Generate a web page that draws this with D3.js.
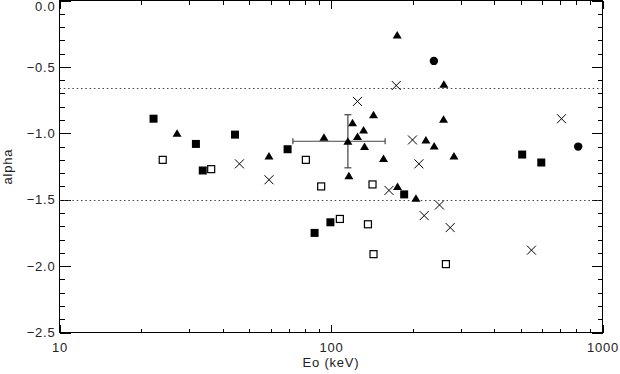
<!DOCTYPE html>
<html>
<head>
<meta charset="utf-8">
<script src="https://cdn.jsdelivr.net/npm/d3@7"></script>
<style>
    html, body { margin: 0; padding: 0; background: #fff; }
    svg { display: block; }
    .tick text, .axis-label { font-family: "Liberation Sans", Arial, sans-serif; font-size: 13px; fill: #222; letter-spacing: 0.8px; }
    .domain { display: none; }
    .tick line { stroke: #000; shape-rendering: crispEdges; }
</style>
</head>
<body>
<div id="chart"></div>
<script>
// [Eo (keV), alpha]
const filledSquares = [
    [22.2, -0.89], [31.8, -1.08], [33.7, -1.28], [44.3, -1.01], [69.2, -1.12],
    [87.0, -1.75], [99.5, -1.67], [186, -1.46], [506, -1.16], [595, -1.22]
];
const openSquares = [
    [24.0, -1.20], [36.2, -1.27], [80.8, -1.20], [92.0, -1.40], [107.8, -1.645],
    [136.8, -1.685], [142.2, -1.385], [143.4, -1.91], [265, -1.985]
];
const triangles = [
    [27.1, -1.00], [59.1, -1.17], [94.2, -1.03], [115.4, -1.06], [116.4, -1.32],
    [120.0, -0.92], [125.2, -1.025], [131.8, -0.975], [132.9, -1.10], [143.4, -0.86],
    [156.1, -1.19], [175.3, -0.26], [175.8, -1.40], [205.5, -1.49], [223.6, -1.05],
    [239.9, -1.095], [259.7, -0.895], [260.5, -0.63], [283.7, -1.17]
];
const circles = [[239.3, -0.455], [813.7, -1.10]];
const crosses = [
    [46.0, -1.23], [59.1, -1.35], [125.2, -0.76], [163.5, -1.43], [173.9, -0.64],
    [199.6, -1.05], [210.8, -1.23], [220.4, -1.62], [250.9, -1.54], [274.8, -1.71],
    [547.5, -1.88], [706.3, -0.89]
];
// mean point with its error bars: [E, alpha, Emin, Emax, alphaMin, alphaMax]
const errorPoint = [115.4, -1.06, 72.4, 158.3, -1.26, -0.86];
const refLines = [-0.66, -1.5];
const xMajor = [10, 100, 1000];
const yMajor = [-2.5, -2.0, -1.5, -1.0, -0.5, 0.0];

const W = 620, H = 374;
const pLeft = 59.5, pRight = 602.5, pTop = 0.5, pBottom = 332.5;

const svg = d3.select('#chart').append('svg').attr('width', W).attr('height', H);

const x = d3.scaleLog().domain([10, 1000]).range([pLeft, pRight]);
const y = d3.scaleLinear().domain([-2.5, 0]).range([pBottom, pTop]);

const xTicks = x.ticks();
const yTicks = d3.range(-25, 1).map(i => i / 10);
const isXMajor = d => xMajor.includes(d);
const isYMajor = d => yMajor.some(v => Math.abs(v - d) < 1e-9);

// Axes
const gx = svg.append('g').attr('transform', `translate(0,${pBottom})`)
    .call(d3.axisBottom(x).tickValues(xTicks).tickSizeInner(-4).tickSizeOuter(0)
        .tickPadding(10).tickFormat(d => isXMajor(d) ? d : ''));
gx.selectAll('.tick line').filter(isXMajor).attr('y2', -8);

const gxt = svg.append('g').attr('transform', `translate(0,${pTop})`)
    .call(d3.axisTop(x).tickValues(xTicks).tickSizeInner(-4).tickSizeOuter(0).tickFormat(''));
gxt.selectAll('.tick line').filter(isXMajor).attr('y2', 8);

const gy = svg.append('g').attr('transform', `translate(${pLeft},0)`)
    .call(d3.axisLeft(y).tickValues(yTicks).tickSizeInner(-5).tickSizeOuter(0)
        .tickPadding(4).tickFormat(d => isYMajor(d) ? d3.format('.1f')(d) : ''));
gy.selectAll('.tick line').filter(isYMajor).attr('x2', 11);
// top label sits just inside the window, as in the original
gy.selectAll('.tick text').filter(d => d === 0).attr('dy', '0.8em').attr('y', 0);

const gyr = svg.append('g').attr('transform', `translate(${pRight},0)`)
    .call(d3.axisRight(y).tickValues(yTicks).tickSizeInner(-5).tickSizeOuter(0).tickFormat(''));
gyr.selectAll('.tick line').filter(isYMajor).attr('x2', -11);

// Frame
svg.append('rect')
    .attr('x', pLeft).attr('y', pTop)
    .attr('width', pRight - pLeft).attr('height', pBottom - pTop)
    .attr('fill', 'none').attr('stroke', '#000').attr('shape-rendering', 'crispEdges');

// Dotted reference lines
svg.selectAll('.ref').data(refLines).join('line')
    .attr('class', 'ref')
    .attr('x1', pLeft).attr('x2', pRight)
    .attr('y1', d => Math.round(y(d)) + 0.5).attr('y2', d => Math.round(y(d)) + 0.5)
    .attr('stroke', '#444').attr('stroke-width', 1.2).attr('stroke-dasharray', '1.5,2.8');

// Axis titles
svg.append('text').attr('class', 'axis-label')
    .attr('x', (pLeft + pRight) / 2).attr('y', 367).attr('text-anchor', 'middle')
    .text('Eo (keV)');
svg.append('text').attr('class', 'axis-label')
    .attr('transform', `translate(12,${(pTop + pBottom) / 2}) rotate(-90)`)
    .attr('text-anchor', 'middle')
    .text('alpha');

// Error bars
const [eE, eA, eX0, eX1, eY0, eY1] = errorPoint;
const eb = svg.append('g').attr('stroke', '#444').attr('stroke-width', 1.2).attr('fill', 'none');
eb.append('line').attr('x1', x(eX0)).attr('x2', x(eX1)).attr('y1', y(eA)).attr('y2', y(eA));
eb.append('line').attr('x1', x(eE)).attr('x2', x(eE)).attr('y1', y(eY0)).attr('y2', y(eY1));
[eX0, eX1].forEach(v => eb.append('line').attr('x1', x(v)).attr('x2', x(v)).attr('y1', y(eA) - 3).attr('y2', y(eA) + 3));
[eY0, eY1].forEach(v => eb.append('line').attr('x1', x(eE) - 3.5).attr('x2', x(eE) + 3.5).attr('y1', y(v)).attr('y2', y(v)));

// Markers
const pts = svg.append('g');

pts.selectAll('.fsq').data(filledSquares).join('rect')
    .attr('x', d => x(d[0]) - 4).attr('y', d => y(d[1]) - 4)
    .attr('width', 8).attr('height', 8).attr('fill', '#000');

pts.selectAll('.osq').data(openSquares).join('rect')
    .attr('x', d => x(d[0]) - 3.5).attr('y', d => y(d[1]) - 3.5)
    .attr('width', 7).attr('height', 7).attr('fill', '#fff')
    .attr('stroke', '#000').attr('stroke-width', 1.2);

pts.selectAll('.tri').data(triangles).join('path')
    .attr('d', d => {
        const cx = x(d[0]), cy = y(d[1]);
        return `M${cx},${cy - 4}L${cx + 4.5},${cy + 3.5}L${cx - 4.5},${cy + 3.5}Z`;
    })
    .attr('fill', '#000');

pts.selectAll('.circ').data(circles).join('circle')
    .attr('cx', d => x(d[0])).attr('cy', d => y(d[1])).attr('r', 4.2).attr('fill', '#000');

pts.selectAll('.cross').data(crosses).join('path')
    .attr('d', d => {
        const cx = x(d[0]), cy = y(d[1]), s = 4.5;
        return `M${cx - s},${cy - s}L${cx + s},${cy + s}M${cx - s},${cy + s}L${cx + s},${cy - s}`;
    })
    .attr('stroke', '#000').attr('stroke-width', 1).attr('fill', 'none');
</script>
</body>
</html>
